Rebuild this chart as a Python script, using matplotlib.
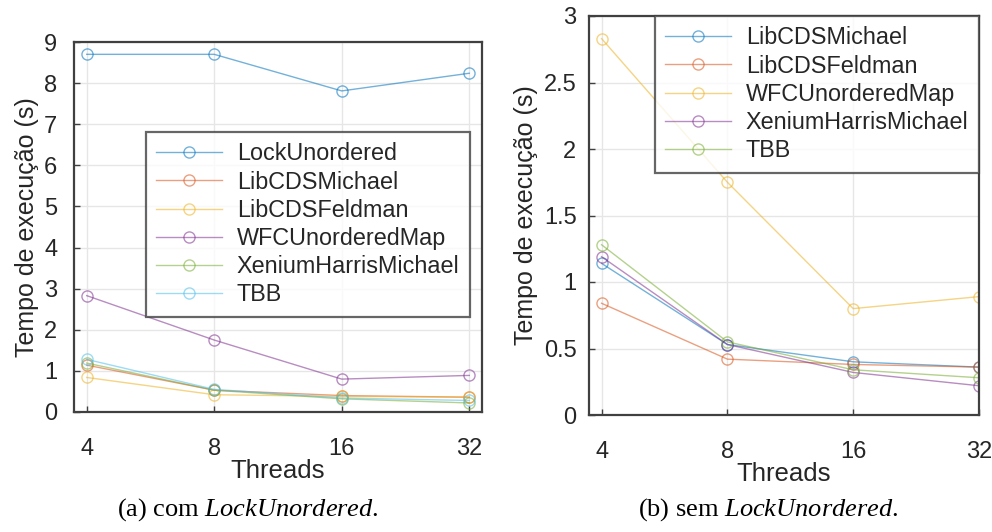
import matplotlib.pyplot as plt
import numpy as np

plt.rcParams['font.family'] = ['Liberation Sans', 'DejaVu Sans']
plt.rcParams['mathtext.fontset'] = 'custom'
plt.rcParams['mathtext.rm'] = 'Liberation Serif'
plt.rcParams['mathtext.it'] = 'Liberation Serif:italic'

# dados
threads = ["4", "8", "16", "32"]
lock_unordered = [8.70, 8.70, 7.81, 8.24]
libcds_michael = [1.14, 0.53, 0.40, 0.36]
libcds_feldman = [0.84, 0.42, 0.38, 0.36]
wfc_unordered = [2.83, 1.75, 0.80, 0.89]
xenium_hm = [1.19, 0.53, 0.32, 0.22]
tbb = [1.28, 0.55, 0.34, 0.28]

cores = ["#0072BD", "#D95319", "#EDB120", "#7E2F8E", "#77AC30", "#4DBEEE"]

series_a = [("LockUnordered", lock_unordered), ("LibCDSMichael", libcds_michael),
            ("LibCDSFeldman", libcds_feldman), ("WFCUnorderedMap", wfc_unordered),
            ("XeniumHarrisMichael", xenium_hm), ("TBB", tbb)]
series_b = series_a[1:]

fig = plt.figure(figsize=(9.92, 5.32), dpi=100)
W, H = 992, 532
ax1 = fig.add_axes([74 / W, (H - 412) / H, (482 - 74) / W, (412 - 42) / H])
ax2 = fig.add_axes([589 / W, (H - 415) / H, (979 - 589) / W, (415 - 16) / H])

x = np.arange(1, len(threads) + 1)


def desenha(ax, series, ylim, yticks, yticklabels, xlim, legend_anchor, ypad):
    for i, (nome, vals) in enumerate(series):
        ax.plot(x, vals, color=cores[i], alpha=0.55, lw=1.0, marker='o',
                ms=8, mfc='none', mew=1.0, label=nome)
    ax.set_xlim(*xlim)
    ax.set_ylim(*ylim)
    ax.set_xticks(x)
    ax.set_xticklabels(threads)
    ax.set_yticks(yticks)
    ax.set_yticklabels(yticklabels)
    ax.grid(True, color='#e6e6e6', lw=1.0)
    ax.set_axisbelow(True)
    for s in ax.spines.values():
        s.set_color('#404040')
        s.set_linewidth(1.6)
    ax.tick_params(direction='in', length=4, width=1.0, color='#404040',
                   labelsize=17, labelcolor='#262626')
    ax.tick_params(axis='y', pad=ypad)
    ax.tick_params(axis='x', pad=19)
    ax.set_xlabel("Threads", fontsize=18.5, color='#262626', labelpad=-1)
    ax.set_ylabel("Tempo de execução (s)", fontsize=18, color='#262626', labelpad=4)
    leg = ax.legend(loc='upper right', bbox_to_anchor=legend_anchor, fontsize=16.8,
                    frameon=True, fancybox=False, edgecolor='#404040',
                    handlelength=2.8, labelspacing=0.22, borderpad=0.45,
                    handletextpad=0.65, borderaxespad=0.0)
    leg.get_frame().set_linewidth(1.6)
    for t in leg.get_texts():
        t.set_color('#262626')


desenha(ax1, series_a, (0, 9), range(0, 10), [str(v) for v in range(0, 10)],
        (0.9, 4.1), ((470 - 74) / (482 - 74), (412 - 132) / (412 - 42)), 12)
desenha(ax2, series_b, (0, 3), [0, 0.5, 1, 1.5, 2, 2.5, 3],
        ["0", "0.5", "1", "1.5", "2", "2.5", "3"], (0.9, 4.0), (1.0, 1.0), 9)

fig.text(248 / W, 1 - 510 / H, r"(a) com $\mathit{LockUnordered}$.",
         ha='center', va='center', fontsize=19, family='Liberation Serif')
fig.text(768 / W, 1 - 510 / H, r"(b) sem $\mathit{LockUnordered}$.",
         ha='center', va='center', fontsize=19, family='Liberation Serif')

fig.savefig("out.png", dpi=100)
